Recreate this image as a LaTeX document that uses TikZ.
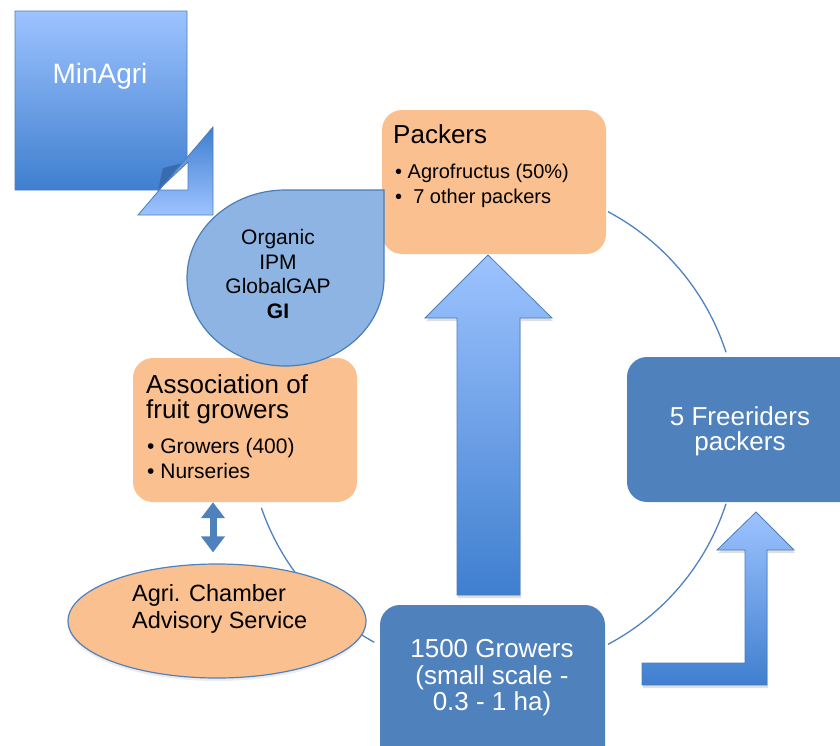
\documentclass[tikz,border=0pt]{standalone}
\usepackage{fontspec}
\setmainfont{Liberation Sans}
\usetikzlibrary{positioning,arrows.meta,calc,shapes.geometric,shadows}
\definecolor{peach}{HTML}{FAC090}
\definecolor{steel}{HTML}{4F81BD}
\definecolor{drop}{HTML}{8DB4E2}
\definecolor{lightb}{HTML}{9DC3FF}
\definecolor{darkb}{HTML}{3F7FCF}
\definecolor{edge}{HTML}{4A7EBB}
\definecolor{fold}{HTML}{3A6BAE}

\begin{document}
\begin{tikzpicture}[x=1pt, y=-1pt,
    box/.style={rounded corners=20pt, minimum width=224pt, inner sep=0pt},
    hd/.style={font=\fontsize{26}{26}\selectfont, inner sep=0pt},
    bl/.style={font=\fontsize{20}{20}\selectfont, inner sep=0pt},
    ring/.style={draw=steel, line width=1.3pt},
    fat/.style={draw=edge, line width=.8pt, top color=lightb, bottom color=darkb,
                drop shadow={opacity=.25, shadow xshift=1pt, shadow yshift=-3pt}},
    updown/.style={{Triangle[width=23pt,length=16pt]}-{Triangle[width=23pt,length=16pt]},
                   line width=7pt, steel},
  ]
  \useasboundingbox (0,0) rectangle (840,745);

  % cycle behind the boxes
  \coordinate (hub) at (493,428);
  \draw[ring] (hub) ++(-62:245) arc[start angle=-62, end angle=-18, radius=245];
  \draw[ring] (hub) ++(18:245) arc[start angle=18, end angle=62, radius=245];
  \draw[ring] (hub) ++(119:245) arc[start angle=119, end angle=128, radius=245];
  \draw[ring] (hub) ++(140:245) arc[start angle=140, end angle=161, radius=245];

  % MinAgri
  \draw[edge, line width=.8pt, top color=lightb, bottom color=darkb]
    (15,11) -- (187,11) -- (187,162) -- (158,190) -- (15,190) -- cycle;
  \fill[fold] (158,190) -- (163,168) -- (187,162) -- cycle;
  \draw[edge, line width=.8pt, top color=darkb, bottom color=lightb, even odd rule]
    (138,215) -- (213,215) -- (213,127) -- cycle
    (158,190) -- (188,190) -- (188,162) -- cycle;
  \node[white, font=\fontsize{28}{28}\selectfont] (minagri) at (100,76) {MinAgri};

  % Packers
  \node[box, fill=peach, minimum height=144pt] (packers) at (494,182) {};
  \node[hd, anchor=base west] (pkh) at (393,143) {Packers};
  \node[bl, anchor=base west] (pk1) at (395,178) {• Agrofructus (50\%)};
  \node[bl, anchor=base west] (pk2) at (395,203) {•\ \ 7 other packers};

  % Association of fruit growers
  \node[box, fill=peach, minimum height=144pt] (assoc) at (245,430) {};
  \node[hd, anchor=base west] (as1) at (146,393) {Association of};
  \node[hd, anchor=base west] (as2) at (146,418) {fruit growers};
  \node[bl, font=\fontsize{21}{21}\selectfont, anchor=base west] (as3) at (147,453) {• Growers (400)};
  \node[bl, font=\fontsize{21}{21}\selectfont, anchor=base west] (as4) at (147,478) {• Nurseries};

  % labels drop
  \draw[edge, line width=1.2pt, fill=drop]
    (187,278) arc[start angle=180, end angle=270, x radius=98.5, y radius=88]
    -- (384,190) -- (384,278)
    arc[start angle=0, end angle=180, x radius=98.5, y radius=88] -- cycle;
  \node[align=center, inner sep=0pt, font=\fontsize{21}{24.7}\selectfont] (labels) at (278,274)
    {Organic\\IPM\\GlobalGAP\\\textbf{GI}};

  % Freeriders
  \node[box, fill=steel, minimum width=260pt, minimum height=145pt] (free) at (757,429.5) {};
  \node[white, align=center, inner sep=0pt, font=\fontsize{26}{25}\selectfont] (freet) at (740,431)
    {5 Freeriders\\packers};

  % Growers
  \node[box, fill=steel, minimum width=225pt, minimum height=175pt] (growers) at (492.5,692.5) {};
  \node[white, align=center, inner sep=0pt, font=\fontsize{26}{26.5}\selectfont] (growt) at (492,678)
    {1500 Growers\\(small scale -\\0.3 - 1 ha)};

  % Agri. Chamber
  \node[ellipse, draw=steel, line width=1.2pt, fill=peach, minimum width=298pt, minimum height=114pt,
        inner sep=0pt, drop shadow={opacity=.15, shadow xshift=0pt, shadow yshift=-3pt}] (agri) at (217,621) {};
  \node[font=\fontsize{23.5}{23.5}\selectfont, inner sep=0pt, anchor=base west] (ag1) at (132,601) {Agri. Chamber};
  \node[font=\fontsize{23.5}{23.5}\selectfont, inner sep=0pt, anchor=base west] (ag2) at (132,628) {Advisory Service};

  % arrows
  \draw[updown] ($(agri.north)+(-4,-11)$) -- ($(agri.north |- assoc.south)+(-4,0)$);
  \path[fat] (457,595) -- (457,318) -- (425,318) -- (488,255) -- (552,318) -- (520,318) -- (520,595) -- cycle;
  \path[fat] (642,663) -- (745,663) -- (745,550) -- (717,550) -- (756,512) -- (794,550)
    -- (767,550) -- (767,685) -- (642,685) -- cycle;
\end{tikzpicture}
\end{document}
